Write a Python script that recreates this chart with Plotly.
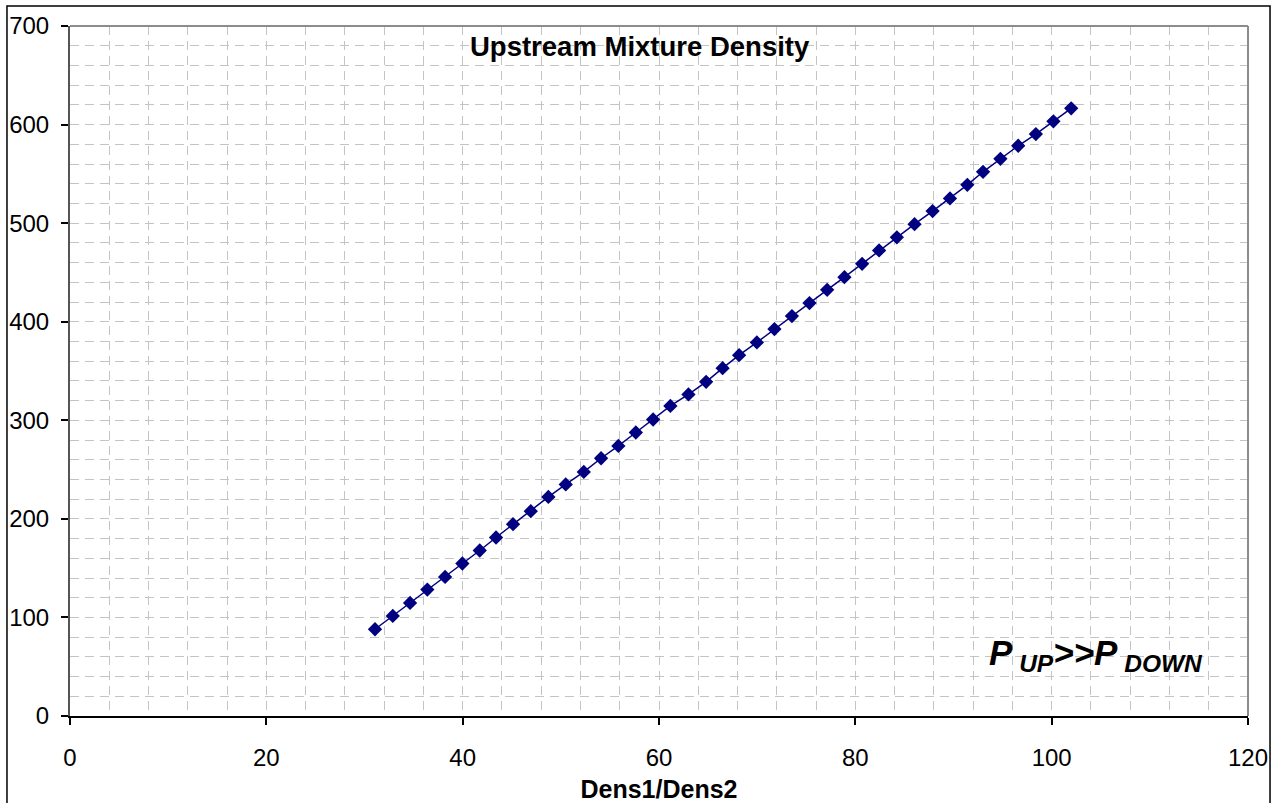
import plotly.graph_objects as go

dens_ratio = [31.07, 32.88, 34.64, 36.40, 38.21, 39.97, 41.74, 43.40, 45.13, 46.94,
              48.73, 50.50, 52.34, 54.10, 55.86, 57.64, 59.40, 61.16, 63.00, 64.80,
              66.48, 68.16, 69.97, 71.76, 73.54, 75.33, 77.13, 78.89, 80.69, 82.42,
              84.23, 86.03, 87.87, 89.64, 91.41, 93.01, 94.78, 96.59, 98.39, 100.18, 101.99]
mix_density = [88.0, 101.5, 114.7, 128.3, 141.1, 154.7, 167.9, 181.1, 194.6, 207.8,
               222.3, 234.9, 247.6, 261.5, 274.0, 287.6, 300.8, 314.6, 326.2, 339.0,
               352.9, 366.1, 379.0, 392.5, 405.7, 418.9, 432.4, 445.2, 458.7, 472.3,
               485.6, 499.0, 512.2, 525.1, 538.9, 552.1, 565.3, 578.5, 590.4, 603.3, 616.5]

title_text = "Upstream Mixture Density"
x_title = "Dens1/Dens2"
note_text = "<b><i>P<sub> UP</sub>&gt;&gt;P<sub> DOWN</sub></i></b>"

FONT = "Liberation Sans, Arial, sans-serif"
GRID = "#c4c4c4"
DASH = "9px,6px"

fig = go.Figure()
fig.add_trace(go.Scatter(
    x=dens_ratio, y=mix_density, mode="lines+markers",
    line=dict(color="#000080", width=1.5),
    marker=dict(symbol="diamond", size=11, color="#000080"),
    showlegend=False,
))

fig.update_layout(
    width=1279, height=803,
    margin=dict(l=70, r=31, t=26, b=87),
    paper_bgcolor="white", plot_bgcolor="white",
    font=dict(family=FONT, color="black", size=24),
    showlegend=False,
)

fig.update_xaxes(
    range=[0, 120], dtick=20, tick0=0, automargin=False,
    showgrid=True, gridcolor=GRID, griddash=DASH, gridwidth=1,
    minor=dict(dtick=4, tick0=0, showgrid=True, gridcolor=GRID, griddash=DASH, gridwidth=1, ticks=""),
    ticks="outside", ticklen=7, tickcolor="black", tickwidth=1.5,
    showline=True, linecolor="black", linewidth=2,
    zeroline=False, ticklabelstandoff=12,
    tickfont=dict(size=24, family=FONT),
    title=dict(text="<b>" + x_title + "</b>", font=dict(size=25, family=FONT), standoff=12),
)
fig.update_yaxes(
    range=[0, 700], dtick=100, tick0=0, automargin=False,
    showgrid=True, gridcolor=GRID, griddash=DASH, gridwidth=1,
    minor=dict(dtick=20, tick0=0, showgrid=True, gridcolor=GRID, griddash=DASH, gridwidth=1, ticks=""),
    ticks="outside", ticklen=7, tickcolor="black", tickwidth=1.5,
    showline=True, linecolor="#555555", linewidth=2,
    zeroline=False, ticklabelstandoff=7,
    tickfont=dict(size=24, family=FONT),
)

# plot-area border (top / right in grey)
fig.add_shape(type="line", xref="paper", yref="paper", x0=0, x1=1, y0=1, y1=1,
              line=dict(color="#8c8c8c", width=2))
fig.add_shape(type="line", xref="paper", yref="paper", x0=1, x1=1, y0=0, y1=1,
              line=dict(color="#8c8c8c", width=2))
# outer chart frame
fig.add_shape(type="rect", xref="paper", yref="paper",
              x0=-0.0535, x1=1.0187, y0=-0.14, y1=1.029,
              line=dict(color="black", width=1.5), fillcolor="rgba(0,0,0,0)", layer="above")

fig.add_annotation(text="<b>" + title_text + "</b>", xref="paper", yref="paper",
                   x=0.4835, y=0.971, showarrow=False,
                   font=dict(size=27.5, family=FONT, color="black"),
                   xanchor="center", yanchor="middle")
fig.add_annotation(text=note_text, xref="paper", yref="paper",
                   x=0.871, y=0.088, showarrow=False,
                   font=dict(size=35, family=FONT, color="black"),
                   xanchor="center", yanchor="middle")

fig.write_html("out.html",
               config={"displayModeBar": False},
               post_script="document.body.style.margin='0';document.body.style.overflow='hidden';")
